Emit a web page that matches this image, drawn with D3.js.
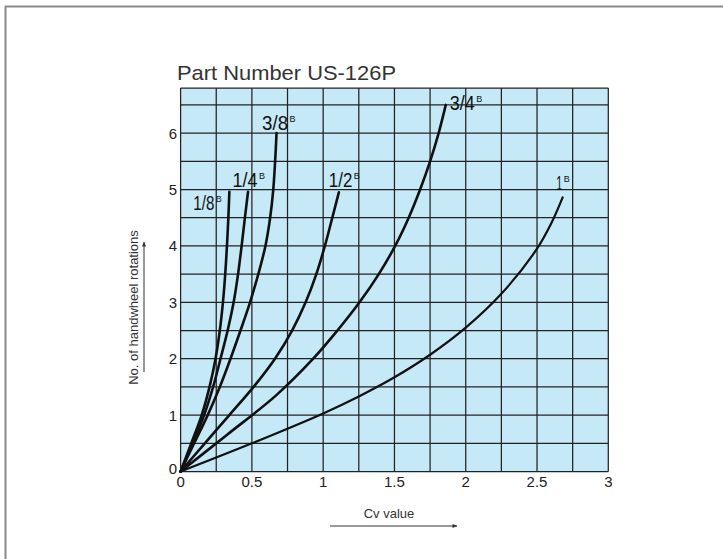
<!DOCTYPE html>
<html>
<head>
<meta charset="utf-8">
<script src="https://cdn.jsdelivr.net/npm/d3@7"></script>
<style>
  html, body { margin: 0; padding: 0; background: #fff; }
  svg { display: block; }
</style>
</head>
<body>
<svg id="chart" width="723" height="559"></svg>
<script>
const xTicks = [0, 0.5, 1, 1.5, 2, 2.5, 3];
const yTicks = [0, 1, 2, 3, 4, 5, 6];
const sizeLabels = ["1/8", "1/4", "3/8", "1/2", "3/4", "1"];

// Cv value (x) and handwheel rotations (y) for each valve size
const cv18 = [0, 0.075, 0.148, 0.203, 0.245, 0.275, 0.297, 0.313, 0.325, 0.335, 0.342];
const rot18 = [0, 0.5, 1.0, 1.5, 2.0, 2.5, 3.0, 3.5, 4.0, 4.5, 4.96];
const cv14 = [0, 0.085, 0.165, 0.228, 0.28, 0.33, 0.372, 0.403, 0.428, 0.451, 0.473];
const rot14 = [0, 0.5, 1.0, 1.5, 2.0, 2.5, 3.0, 3.5, 4.0, 4.5, 4.96];
const cv38 = [0, 0.095, 0.19, 0.275, 0.35, 0.42, 0.487, 0.545, 0.595, 0.628, 0.65, 0.663, 0.673];
const rot38 = [0, 0.5, 1.0, 1.5, 2.0, 2.5, 3.0, 3.5, 4.0, 4.5, 5.0, 5.5, 6.0];
const cv12 = [0, 0.17, 0.342, 0.512, 0.662, 0.782, 0.877, 0.952, 1.012, 1.064, 1.11];
const rot12 = [0, 0.5, 1.0, 1.5, 2.0, 2.5, 3.0, 3.5, 4.0, 4.5, 4.95];
const cv34 = [0, 0.32, 0.67, 0.93, 1.10, 1.255, 1.39, 1.505, 1.60, 1.68, 1.75, 1.81, 1.86];
const rot34 = [0, 0.64, 1.35, 2.0, 2.5, 3.0, 3.5, 4.0, 4.5, 5.0, 5.5, 6.0, 6.5];
const cv1 = [0, 0.5, 1.0, 1.25, 1.5, 1.75, 2.0, 2.25, 2.5, 2.6, 2.68];
const rot1 = [0, 0.5, 1.03, 1.33, 1.67, 2.07, 2.55, 3.15, 3.95, 4.4, 4.86];

const cvSeries = [cv18, cv14, cv38, cv12, cv34, cv1];
const rotSeries = [rot18, rot14, rot38, rot12, rot34, rot1];

const svg = d3.select("#chart");
const font = "'Liberation Sans', Arial, sans-serif";

// outer frame (top and left edges only)
svg.append("line").attr("x1", 5).attr("y1", 6.5).attr("x2", 723).attr("y2", 6.5).attr("stroke", "#8a8a8a").attr("stroke-width", 2);
svg.append("line").attr("x1", 5.5).attr("y1", 6).attr("x2", 5.5).attr("y2", 559).attr("stroke", "#8a8a8a").attr("stroke-width", 2);

const x = d3.scaleLinear().domain([0, 3]).range([180.6, 608.3]);
const y = d3.scaleLinear().domain([0, 6.8]).range([471.5, 88]);

svg.append("rect")
  .attr("x", x(0)).attr("y", y(6.8))
  .attr("width", x(3) - x(0)).attr("height", y(0) - y(6.8))
  .attr("fill", "#c6e9f8");

const grid = svg.append("g").attr("stroke", "#222").attr("stroke-width", 1.25);
d3.range(0, 3.01, 0.25).forEach((v) => {
  grid.append("line").attr("x1", x(v)).attr("x2", x(v)).attr("y1", y(0)).attr("y2", y(6.8));
});
d3.range(0, 6.51, 0.5).concat([6.8]).forEach((v) => {
  grid.append("line").attr("x1", x(0)).attr("x2", x(3)).attr("y1", y(v)).attr("y2", y(v));
});

// tick labels
xTicks.forEach((v) => {
  svg.append("text").attr("x", x(v)).attr("y", 487).attr("text-anchor", "middle")
    .attr("font-family", font).attr("font-size", 15).attr("fill", "#222").text(v);
});
yTicks.forEach((v) => {
  svg.append("text").attr("x", 177).attr("y", y(v) + (v === 0 ? -3 : 0)).attr("dy", "0.36em")
    .attr("text-anchor", "end").attr("font-family", font).attr("font-size", 15).attr("fill", "#222").text(v);
});

// curves
const line = d3.line().x((d) => x(d[0])).y((d) => y(d[1])).curve(d3.curveCatmullRom.alpha(0.5));
cvSeries.forEach((cvs, i) => {
  const pts = cvs.map((c, j) => [c, rotSeries[i][j]]);
  svg.append("path").attr("d", line(pts)).attr("fill", "none")
    .attr("stroke", "#111").attr("stroke-width", i === 5 ? 2.2 : 2.6)
    .attr("stroke-linecap", "round").attr("stroke-linejoin", "round");
});

// size labels (with superscript B), placed relative to the curve end
const labelOffsets = [[-36, 18, 21], [-15.5, -5, 25], [-14.5, -3.5, 26], [-10, -5, 23.5], [4, 5, 25], [-6.5, -7, 6]];
cvSeries.forEach((cvs, i) => {
  const last = cvs.length - 1;
  const px = x(cvs[last]) + labelOffsets[i][0];
  const py = y(rotSeries[i][last]) + labelOffsets[i][1];
  const t = svg.append("text").attr("x", px).attr("y", py)
    .attr("font-family", font).attr("fill", "#111");
  t.append("tspan").attr("font-size", 20.5)
    .attr("textLength", labelOffsets[i][2]).attr("lengthAdjust", "spacingAndGlyphs").text(sizeLabels[i]);
  t.append("tspan").attr("font-size", 9).attr("dx", 1.5).attr("dy", -8).text("B");
});

// title
svg.append("text").attr("x", 177).attr("y", 79.5).attr("font-family", font).attr("font-size", 21)
  .attr("fill", "#333").attr("textLength", 219).attr("lengthAdjust", "spacingAndGlyphs").text("Part Number US-126P");

// axis titles with arrows
svg.append("defs").append("marker").attr("id", "arrow").attr("viewBox", "0 0 10 10")
  .attr("refX", 9).attr("refY", 5).attr("markerWidth", 7).attr("markerHeight", 5)
  .attr("orient", "auto").append("path").attr("d", "M0,1 L10,5 L0,9 Z").attr("fill", "#333");

svg.append("text").attr("x", 389).attr("y", 518).attr("text-anchor", "middle")
  .attr("font-family", font).attr("font-size", 13).attr("fill", "#333").text("Cv value");
svg.append("line").attr("x1", 330).attr("y1", 526).attr("x2", 457).attr("y2", 526)
  .attr("stroke", "#333").attr("stroke-width", 1).attr("marker-end", "url(#arrow)");

svg.append("text").attr("transform", "translate(137.5,307.5) rotate(-90)").attr("text-anchor", "middle")
  .attr("font-family", font).attr("font-size", 13).attr("fill", "#333").text("No. of handwheel rotations");
svg.append("line").attr("x1", 144).attr("y1", 372).attr("x2", 144).attr("y2", 242)
  .attr("stroke", "#333").attr("stroke-width", 1).attr("marker-end", "url(#arrow)");
</script>
</body>
</html>
